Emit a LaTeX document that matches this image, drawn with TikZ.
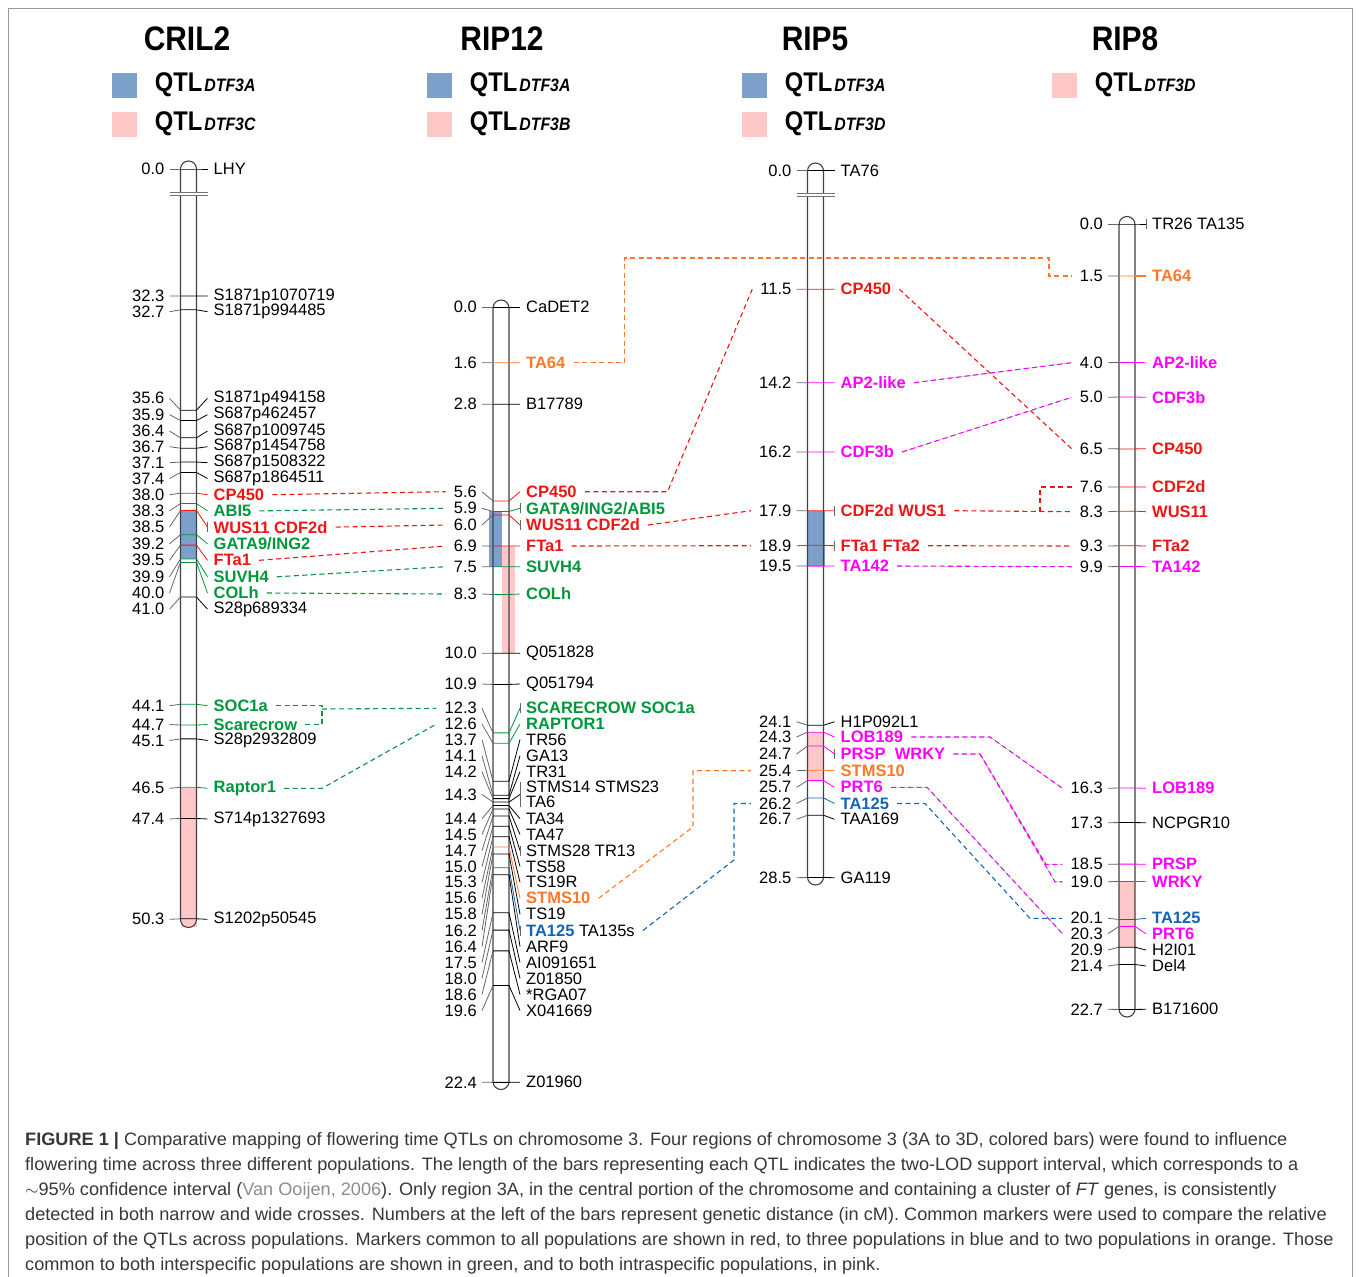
\documentclass[tikz,border=0pt]{standalone}
\usepackage{fontspec}
\setmainfont{Liberation Sans}
\newfontfamily\ttlfont[FakeStretch=0.88]{Liberation Sans}
\newfontfamily\capfont[FakeStretch=1.008]{Liberation Sans}
\usetikzlibrary{calc,positioning}

% 颜色
\definecolor{mred}{RGB}{240,20,20}
\definecolor{mgreen}{RGB}{0,150,60}
\definecolor{morange}{RGB}{255,120,40}
\definecolor{mpink}{RGB}{255,0,255}
\definecolor{mblue}{RGB}{20,100,180}
\definecolor{qblue}{RGB}{124,160,202}
\definecolor{qpink}{RGB}{255,200,200}
\definecolor{plgreen}{RGB}{150,215,160}
\definecolor{captxt}{RGB}{55,55,55}
\definecolor{citegray}{RGB}{140,140,140}

\newcommand{\lfont}{\fontsize{16.5}{15}\selectfont}
\newcommand{\qsub}[1]{{\fontsize{18}{18}\selectfont\itshape #1}}

% 标记：名字, 染色体上的 y, 标签 y, 数字, 标签, 颜色, 字体
\newcommand{\mkat}[7]{%
  \node[num] (#1n) at (\cx-24,#3) {#4};
  \node[lab,text=#6,font=\lfont#7] (#1) at (\cx+25,#3) {#5};
  \draw[tk] (\cx-19,#3) -- (\cx-8,#2);
  \draw[#6,line width=0.8pt] (\cx-8,#2) -- (\cx+8,#2) -- (\cx+19,#3);
}
% y = \yz + cM*34.6
\newcommand{\mk}[4]{\pgfmathsetmacro{\yb}{\yz+#2*34.6}\mkat{#1}{\yb}{#3}{#2}{#4}{black}{}}
\newcommand{\mkc}[5]{\pgfmathsetmacro{\yb}{\yz+#2*34.6}\mkat{#1}{\yb}{#3}{#2}{#4}{#5}{\bfseries}}
% 同一位置多个标记的小竖线
\newcommand{\brk}[2][5]{\draw[tk] (\cx+19,#2-#1) -- (\cx+19,#2+#1);}

\begin{document}
\begin{tikzpicture}[x=1pt,y=-1pt,
  num/.style={anchor=east,inner sep=0pt,font=\lfont},
  lab/.style={anchor=west,inner sep=0pt,align=left},
  tk/.style={draw=black!60,line width=0.8pt},
  chr/.style={draw=black!75,line width=1.1pt},
  brkl/.style={draw=black!55,line width=1.3pt},
  con/.style={line width=1.1pt,dash pattern=on 5pt off 3.5pt},
  pcon/.style={con,mpink,preaction={draw=plgreen,solid,line width=0.6pt}},
  ttl/.style={font=\ttlfont\bfseries\fontsize{34}{34}\selectfont},
  lbox/.style={minimum size=25pt,inner sep=0pt},
  lgd/.style={inner sep=0pt,font=\ttlfont\bfseries\fontsize{27}{27}\selectfont},
  capline/.style={anchor=base west,inner sep=0pt,text=captxt,font=\capfont\fontsize{18}{25}\selectfont}]
  \useasboundingbox (0,0) rectangle (1360,1277);
  \draw[black!40,line width=1pt] (8,1277) -- (8,8) -- (1352,8) -- (1352,1277);

  % 标题和图例
  \node[ttl] (tA) at (187,39) {CRIL2};
  \node[ttl] (tB) at (502,39) {RIP12};
  \node[ttl] (tC) at (815,39) {RIP5};
  \node[ttl] (tD) at (1125,39) {RIP8};
  \node[lbox,fill=qblue] (kA1) at (124,85) {};
  \node[lgd,right=18pt of kA1] (qA1) {QTL\kern2pt\qsub{DTF3A}};
  \node[lbox,fill=qpink] (kA2) at (124,124) {};
  \node[lgd,right=18pt of kA2] (qA2) {QTL\kern2pt\qsub{DTF3C}};
  \node[lbox,fill=qblue] (kB1) at (439,85) {};
  \node[lgd,right=18pt of kB1] (qB1) {QTL\kern2pt\qsub{DTF3A}};
  \node[lbox,fill=qpink] (kB2) at (439,124) {};
  \node[lgd,right=18pt of kB2] (qB2) {QTL\kern2pt\qsub{DTF3B}};
  \node[lbox,fill=qblue] (kC1) at (754,85) {};
  \node[lgd,right=18pt of kC1] (qC1) {QTL\kern2pt\qsub{DTF3A}};
  \node[lbox,fill=qpink] (kC2) at (754,124) {};
  \node[lgd,right=18pt of kC2] (qC2) {QTL\kern2pt\qsub{DTF3D}};
  \node[lbox,fill=qpink] (kD1) at (1064,85) {};
  \node[lgd,right=18pt of kD1] (qD1) {QTL\kern2pt\qsub{DTF3D}};

  % ---------------- CRIL2 ----------------
  \def\cx{188.5} \def\yz{-821.6}
  \fill[qblue] (\cx-8,510.7) rectangle (\cx+8,559.2);
  \fill[qpink] (\cx-8,788.3) rectangle (\cx+8,926.7);
  \draw[chr,rounded corners=8] (\cx-8,161) rectangle (\cx+8,927.5);
  \fill[white] (\cx-9,192.5) rectangle (\cx+9,195.5);
  \draw[brkl] (\cx-19,192.5) -- (\cx+19,192.5);
  \draw[brkl] (\cx-19,195.5) -- (\cx+19,195.5);
  \mkat{a0}{169}{169}{0.0}{LHY}{black}{}
  \mk{a1}{32.3}{296}{S1871p1070719}
  \mk{a2}{32.7}{311.7}{S1871p994485}
  \mk{a3}{35.6}{398.3}{S1871p494158}
  \mk{a4}{35.9}{414.7}{S687p462457}
  \mk{a5}{36.4}{431}{S687p1009745}
  \mk{a6}{36.7}{446.7}{S687p1454758}
  \mk{a7}{37.1}{462.7}{S687p1508322}
  \mk{a8}{37.4}{478.5}{S687p1864511}
  \mkc{aCP}{38.0}{494.7}{CP450}{mred}
  \mkc{aABI}{38.3}{510.9}{ABI5}{mgreen}
  \mkc{aWUS}{38.5}{527.1}{WUS11 CDF2d}{mred}
  \brk{527.1}
  \mkc{aGATA}{39.2}{543.8}{GATA9/ING2}{mgreen}
  \mkc{aFT}{39.5}{560.3}{FTa1}{mred}
  \mkc{aSUV}{39.9}{576.8}{SUVH4}{mgreen}
  \mkc{aCOL}{40.0}{593}{COLh}{mgreen}
  \mk{a9}{41.0}{609.2}{S28p689334}
  \mkc{aSOC}{44.1}{705.7}{SOC1a}{mgreen}
  \mkc{aSCR}{44.7}{724.5}{Scarecrow}{mgreen}
  \mk{a10}{45.1}{740.5}{S28p2932809}
  \mkc{aRAP}{46.5}{788.3}{Raptor1}{mgreen}
  \mk{a11}{47.4}{819}{S714p1327693}
  \mk{a12}{50.3}{919.3}{S1202p50545}

  % ---------------- RIP12 ----------------
  \def\cx{501} \def\yz{307.3}
  \fill[qblue] (\cx-12.5,511.4) rectangle (\cx+1,566.8);
  \fill[qpink] (\cx+1,546) rectangle (\cx+14,653.3);
  \draw[chr,rounded corners=8] (\cx-8,300) rectangle (\cx+8,1089.5);
  \mk{b0}{0.0}{307.3}{CaDET2}
  \mkc{bTA64}{1.6}{362.7}{TA64}{morange}
  \mk{b1}{2.8}{404.3}{B17789}
  \mkc{bCP}{5.6}{491.7}{CP450}{mred}
  \mkc{bGATA}{5.9}{508.3}{GATA9/ING2/ABI5}{mgreen}
  \brk{508.3}
  \mkc{bWUS}{6.0}{525}{WUS11 CDF2d}{mred}
  \brk{525}
  \mkc{bFT}{6.9}{546}{FTa1}{mred}
  \mkc{bSUV}{7.5}{566.7}{SUVH4}{mgreen}
  \mkc{bCOL}{8.3}{594}{COLh}{mgreen}
  \mk{b2}{10.0}{653.3}{Q051828}
  \mk{b3}{10.9}{684}{Q051794}
  \mkc{bSCR}{12.3}{708.3}{SCARECROW SOC1a}{mgreen}
  \brk{708.3}
  \mkc{bRAP}{12.6}{724}{RAPTOR1}{mgreen}
  \mk{b4}{13.7}{739.5}{TR56}
  \mk{b5}{14.1}{755.7}{GA13}
  \mk{b6}{14.2}{771.7}{TR31}
  \mk{b7}{14.3}{794.5}{STMS14 STMS23\\TA6}
  \brk[12.5]{794.5}
  \mk{b8}{14.4}{818.7}{TA34}
  \mk{b9}{14.5}{834.5}{TA47}
  \mk{b10}{14.7}{850.5}{STMS28 TR13}
  \brk{850.5}
  \mk{b11}{15.0}{866.5}{TS58}
  \mk{b12}{15.3}{882.3}{TS19R}
  \mkc{bSTMS}{15.6}{898.3}{STMS10}{morange}
  \mk{b13}{15.8}{914.3}{TS19}
  \mkc{bTA125}{16.2}{930.5}{TA125 {\color{black}\mdseries TA135s}}{mblue}
  \brk{930.5}
  \mk{b14}{16.4}{946.5}{ARF9}
  \mk{b15}{17.5}{962.5}{AI091651}
  \mk{b16}{18.0}{978.5}{Z01850}
  \mk{b17}{18.6}{994.5}{*RGA07}
  \mk{b18}{19.6}{1010.5}{X041669}
  \mk{b19}{22.4}{1082.3}{Z01960}

  % ---------------- RIP5 ----------------
  \def\cx{815.5} \def\yz{-108.6}
  \fill[qblue] (\cx-8,510.7) rectangle (\cx+9.5,566.1);
  \fill[qpink] (\cx-8,732.2) rectangle (\cx+8,780.6);
  \draw[chr,rounded corners=8] (\cx-8,163) rectangle (\cx+8,885);
  \fill[white] (\cx-9,193.5) rectangle (\cx+9,196.5);
  \draw[brkl] (\cx-19,193.5) -- (\cx+19,193.5);
  \draw[brkl] (\cx-19,196.5) -- (\cx+19,196.5);
  \mkat{c0}{170.7}{170.7}{0.0}{TA76}{black}{}
  \mkc{cCP}{11.5}{289.3}{CP450}{mred}
  \mkc{cAP2}{14.2}{382.7}{AP2-like}{mpink}
  \mkc{cCDF3}{16.2}{452}{CDF3b}{mpink}
  \mkc{cCDF2}{17.9}{510.7}{CDF2d WUS1}{mred}
  \brk{510.7}
  \mkc{cFT}{18.9}{545.7}{FTa1 FTa2}{mred}
  \brk{545.7}
  \mkc{cTA142}{19.5}{566}{TA142}{mpink}
  \mk{c1}{24.1}{721.7}{H1P092L1}
  \mkc{cLOB}{24.3}{737}{LOB189}{mpink}
  \mkc{cPRSP}{24.7}{754}{PRSP\ \ WRKY}{mpink}
  \brk{754}
  \mkc{cSTMS}{25.4}{770.7}{STMS10}{morange}
  \mkc{cPRT}{25.7}{787.3}{PRT6}{mpink}
  \mkc{cTA125}{26.2}{803.5}{TA125}{mblue}
  \mk{c2}{26.7}{819.3}{TAA169}
  \mk{c3}{28.5}{877.7}{GA119}

  % ---------------- RIP8 ----------------
  \def\cx{1127} \def\yz{224}
  \fill[qpink] (\cx-8,881.4) rectangle (\cx+8,947.1);
  \draw[chr,rounded corners=8] (\cx-8,216.5) rectangle (\cx+8,1017);
  \mk{d0}{0.0}{224}{TR26 TA135}
  \brk{224}
  \mkc{dTA64}{1.5}{276}{TA64}{morange}
  \draw[morange,line width=2pt] (\cx+8,275.9) -- (\cx+19,275.9);
  \mkc{dAP2}{4.0}{362.7}{AP2-like}{mpink}
  \mkc{dCDF3}{5.0}{397.3}{CDF3b}{mpink}
  \mkc{dCP}{6.5}{448.7}{CP450}{mred}
  \mkc{dCDF2}{7.6}{487}{CDF2d}{mred}
  \mkc{dWUS}{8.3}{511.7}{WUS11}{mred}
  \mkc{dFT}{9.3}{546}{FTa2}{mred}
  \mkc{dTA142}{9.9}{566.7}{TA142}{mpink}
  \mkc{dLOB}{16.3}{788.3}{LOB189}{mpink}
  \mk{d1}{17.3}{822.7}{NCPGR10}
  \mkc{dPRSP}{18.5}{864.3}{PRSP}{mpink}
  \mkc{dWRKY}{19.0}{881.7}{WRKY}{mpink}
  \mkc{dTA125}{20.1}{918.3}{TA125}{mblue}
  \mkc{dPRT}{20.3}{933.7}{PRT6}{mpink}
  \mk{d2}{20.9}{950}{H2I01}
  \mk{d3}{21.4}{966}{Del4}
  \mk{d4}{22.7}{1009.3}{B171600}

  % 连线 CRIL2 - RIP12
  \coordinate (j1) at (322,709);
  \draw[con,mred] ([xshift=8]aCP.east) -- ([xshift=-8]bCPn.west);
  \draw[con,mgreen] ([xshift=8]aABI.east) -- ([xshift=-8]bGATAn.west);
  \draw[con,mred] ([xshift=8]aWUS.east) -- ([xshift=-8]bWUSn.west);
  \draw[con,mred] ([xshift=8]aFT.east) -- ([xshift=-8]bFTn.west);
  \draw[con,mgreen] ([xshift=8]aSUV.east) -- ([xshift=-8]bSUVn.west);
  \draw[con,mgreen] ([xshift=8]aCOL.east) -- ([xshift=-8]bCOLn.west);
  \draw[con,mgreen] ([xshift=8]aSOC.east) -- (aSOC.east -| j1) -- (aSCR.east -| j1) -- ([xshift=8]aSCR.east);
  \draw[con,mgreen] (j1) -- ([xshift=-8]bSCRn.west);
  \draw[con,mgreen] ([xshift=8]aRAP.east) -- (aRAP.east -| j1) -- ([xshift=-8]bRAPn.west);

  % 连线 RIP12 - RIP5 / RIP8
  \coordinate (j2) at (624.5,258);
  \coordinate (j3) at (1049,258);
  \coordinate (j4) at (667.5,491.7);
  \coordinate (j5) at (693,827);
  \coordinate (j6) at (734,860);
  \draw[con,morange] ([xshift=8]bTA64.east) -- (bTA64.east -| j2) -- (j2) -- (j3) -- (j3 |- dTA64n.west) -- ([xshift=-8]dTA64n.west);
  \draw[con,mred] ([xshift=8]bCP.east) -- (bCP.east -| j4) -- ([xshift=-8]cCPn.west);
  \draw[con,mred] ([xshift=8]bWUS.east) -- ([xshift=-8]cCDF2n.west);
  \draw[con,mred] ([xshift=8]bFT.east) -- ([xshift=-8]cFTn.west);
  \draw[con,morange] ([xshift=8]bSTMS.east) -- (j5) -- (j5 |- cSTMSn.west) -- ([xshift=-8]cSTMSn.west);
  \draw[con,mblue] ([xshift=8]bTA125.east) -- (j6) -- (j6 |- cTA125n.west) -- ([xshift=-8]cTA125n.west);

  % 连线 RIP5 - RIP8
  \coordinate (j7) at (1040,511.5);
  \coordinate (j8) at (990,737);
  \coordinate (j9) at (980,754);
  \coordinate (j10) at (1046,864.3);
  \coordinate (j11) at (1055,881.7);
  \coordinate (j12) at (927,787.5);
  \coordinate (j13) at (925,803.5);
  \coordinate (j14) at (1030,918.3);
  \draw[con,mred] ([xshift=8]cCP.east) -- ([xshift=-8]dCPn.west);
  \draw[pcon] ([xshift=8]cAP2.east) -- ([xshift=-8]dAP2n.west);
  \draw[pcon] ([xshift=8]cCDF3.east) -- ([xshift=-8]dCDF3n.west);
  \draw[con,mred] ([xshift=8]cCDF2.east) -- ([xshift=-8]dWUSn.west);
  \draw[con,mred] (j7) -- (j7 |- dCDF2n.west) -- ([xshift=-8]dCDF2n.west);
  \draw[con,mred] ([xshift=8]cFT.east) -- ([xshift=-8]dFTn.west);
  \draw[pcon] ([xshift=8]cTA142.east) -- ([xshift=-8]dTA142n.west);
  \draw[pcon] ([xshift=8]cLOB.east) -- (cLOB.east -| j8) -- ([xshift=-8]dLOBn.west);
  \draw[pcon] ([xshift=8]cPRSP.east) -- (cPRSP.east -| j9) -- (j10) -- ([xshift=-8]dPRSPn.west);
  \draw[pcon] (cPRSP.east -| j9) -- (j11) -- ([xshift=-8]dWRKYn.west);
  \draw[pcon] ([xshift=8]cPRT.east) -- (cPRT.east -| j12) -- ([xshift=-8]dPRTn.west);
  \draw[con,mblue] ([xshift=8]cTA125.east) -- (cTA125.east -| j13) -- (j14) -- ([xshift=-8]dTA125n.west);

  % 图注
  \node[capline] (cap1) at (25,1145) {\textbf{FIGURE 1 |} Comparative mapping of flowering time QTLs on chromosome 3. Four regions of chromosome 3 (3A to 3D, colored bars) were found to influence};
  \node[capline] (cap2) at (25,1170) {flowering time across three different populations. The length of the bars representing each QTL indicates the two-LOD support interval, which corresponds to a};
  \node[capline] (cap3) at (25,1195) {$\sim$95\% confidence interval ({\color{citegray}Van Ooijen, 2006}). Only region 3A, in the central portion of the chromosome and containing a cluster of \textit{FT} genes, is consistently};
  \node[capline] (cap4) at (25,1220) {detected in both narrow and wide crosses. Numbers at the left of the bars represent genetic distance (in cM). Common markers were used to compare the relative};
  \node[capline] (cap5) at (25,1245) {position of the QTLs across populations. Markers common to all populations are shown in red, to three populations in blue and to two populations in orange. Those};
  \node[capline] (cap6) at (25,1270) {common to both interspecific populations are shown in green, and to both intraspecific populations, in pink.};
\end{tikzpicture}
\end{document}
